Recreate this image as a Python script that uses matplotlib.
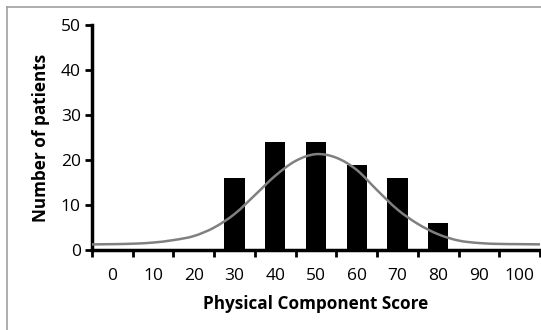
import matplotlib
matplotlib.use("Agg")
import matplotlib.pyplot as plt
from matplotlib.path import Path
from matplotlib.patches import PathPatch
from matplotlib.lines import Line2D
import numpy as np

categories = ["0", "10", "20", "30", "40", "50", "60", "70", "80", "90", "100"]
patients = [0, 0, 0, 16, 24, 24, 19, 16, 6, 0, 0]

# fitted curve (score, count)
curve_x = [-5, 0, 5, 10, 15, 20, 25, 30, 35, 40, 45, 50, 55, 60, 65, 70, 75, 80, 85, 90, 95, 100, 105]
curve_y = [1.25, 1.3, 1.4, 1.65, 2.2, 3.1, 5.0, 8.0, 12.2, 16.5, 19.8, 21.3, 20.5, 17.8, 13.3, 9.0, 5.8, 3.5, 2.1, 1.55, 1.35, 1.3, 1.25]

yticks = [0, 10, 20, 30, 40, 50]

plt.rcParams['font.family'] = ['Open Sans', 'DejaVu Sans']

fig = plt.figure(figsize=(5.41, 3.30), dpi=100)
ax = fig.add_axes([92/541, 1-250/330, 448/541, 225/330])

pos = np.arange(len(categories))
ax.bar(pos, patients, width=0.5, color="black", zorder=2)

# smooth line (Catmull-Rom rendered as bezier) through the read points
px = np.array(curve_x) / 10.0
py = np.array(curve_y)
verts = [(px[0], py[0])]
codes = [Path.MOVETO]
n = len(px)
for i in range(n - 1):
    p0 = np.array([px[max(i-1, 0)], py[max(i-1, 0)]])
    p1 = np.array([px[i], py[i]])
    p2 = np.array([px[i+1], py[i+1]])
    p3 = np.array([px[min(i+2, n-1)], py[min(i+2, n-1)]])
    c1 = p1 + (p2 - p0) / 6.0
    c2 = p2 - (p3 - p1) / 6.0
    verts += [tuple(c1), tuple(c2), tuple(p2)]
    codes += [Path.CURVE4] * 3
ax.add_patch(PathPatch(Path(verts, codes), facecolor="none", edgecolor="#808080", lw=1.8, zorder=3))

ax.set_xlim(-0.5, 10.5)
ax.set_ylim(0, 50)
ax.set_yticks(yticks)
ax.set_yticklabels([str(v) for v in yticks], fontsize=12.5)
ax.set_xticks(pos)
ax.set_xticklabels(categories, fontsize=12.5)
ax.set_xticks(np.arange(-0.5, 10.6, 1.0), minor=True)
ax.tick_params(axis="x", which="major", length=0, pad=13)
ax.tick_params(axis="x", which="minor", length=5, width=2, direction="out")
ax.tick_params(axis="y", length=5, width=2, direction="out", pad=3)

for s in ["top", "right"]:
    ax.spines[s].set_visible(False)
for s in ["left", "bottom"]:
    ax.spines[s].set_linewidth(2.5)
ax.spines["bottom"].set_zorder(4)

ax.set_ylabel("Number of patients", fontsize=12.3, fontweight="bold", labelpad=8)
ax.set_xlabel("Physical Component Score", fontsize=12.3, fontweight="bold", labelpad=8)

# light frame on top and left of the figure
fig.add_artist(Line2D([7/541, 1], [1-6.5/330, 1-6.5/330], transform=fig.transFigure, color="#a0a0a0", lw=1.2))
fig.add_artist(Line2D([7/541, 7/541], [0, 1-6.5/330], transform=fig.transFigure, color="#a0a0a0", lw=1.2))

fig.savefig("out.png", dpi=100)
